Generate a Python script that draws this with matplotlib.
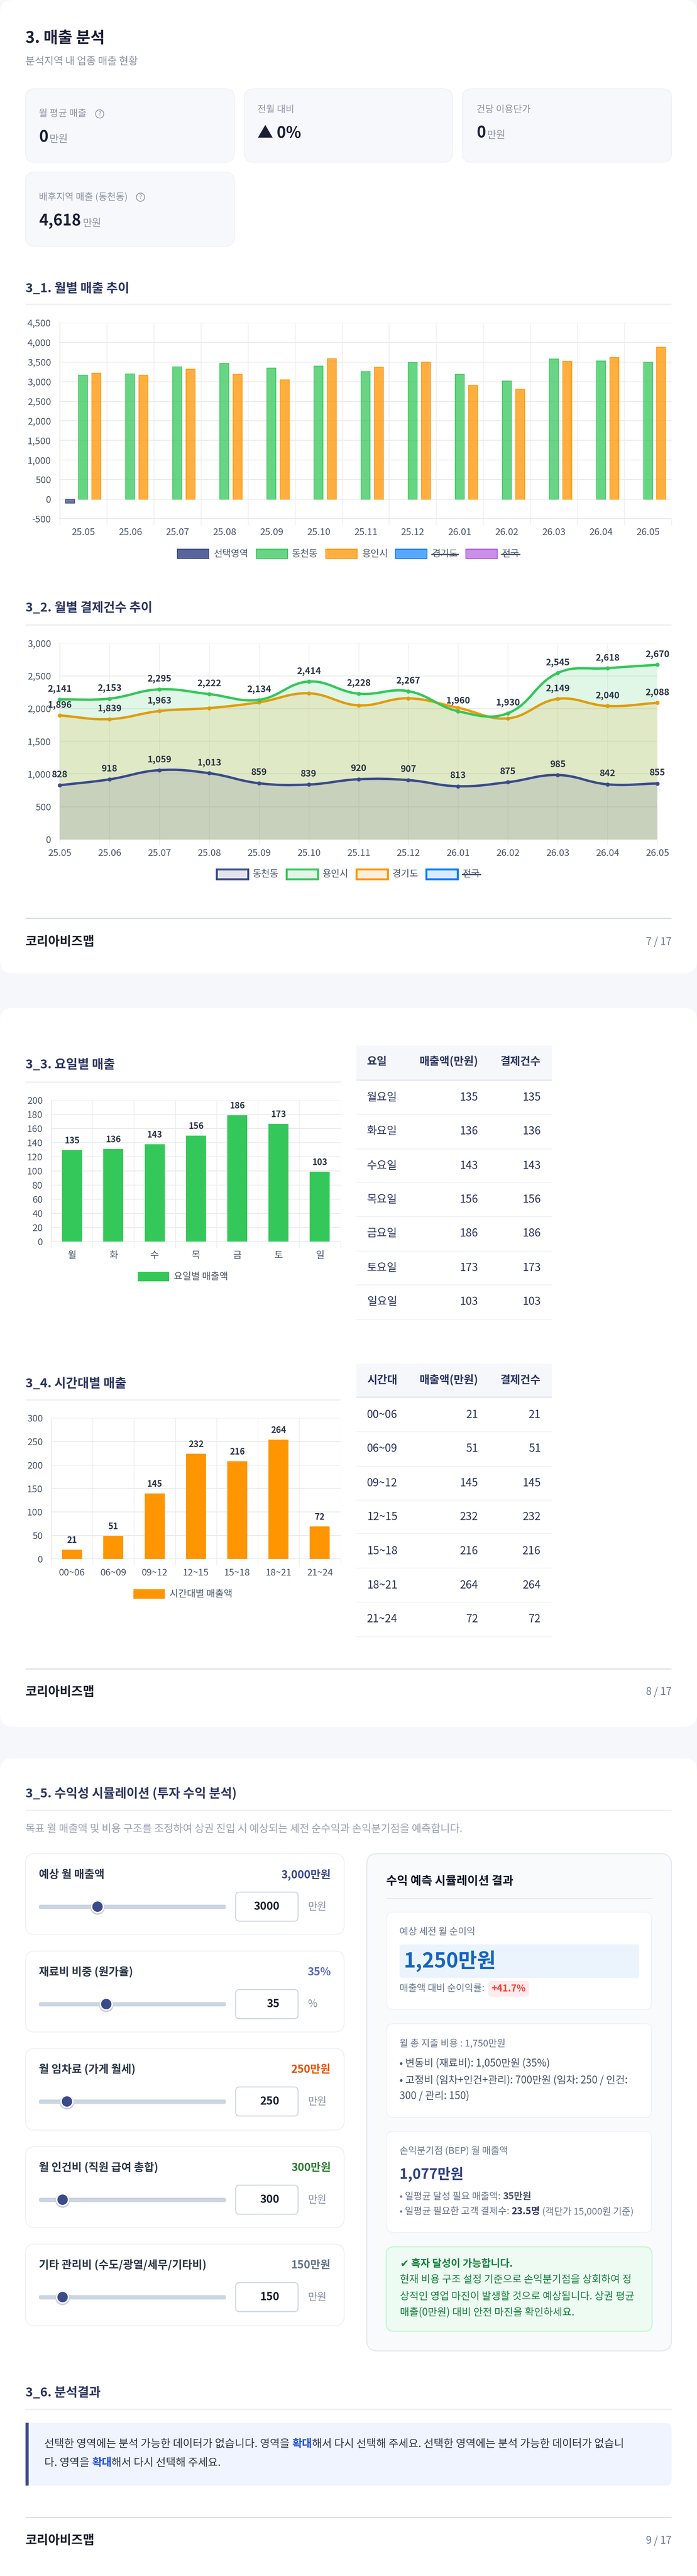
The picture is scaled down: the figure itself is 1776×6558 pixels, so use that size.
import numpy as np
import matplotlib
matplotlib.use('Agg')
import matplotlib.pyplot as plt
from matplotlib.colors import to_rgba
from matplotlib.patches import FancyBboxPatch, Circle, PathPatch, Rectangle
from matplotlib.path import Path

plt.rcParams['font.family'] = ['Noto Sans CJK KR', 'DejaVu Sans']

W, H = 1776, 6558

NAVY = '#3b4a8b'
GREEN = '#34c759'
ORANGE = '#ff9500'
BLUE = '#007aff'
PURPLE = '#af52de'
TITLE_C = '#2d3561'
GREY = '#8b93a5'
TICK_C = '#4a5568'

months = ['25.05', '25.06', '25.07', '25.08', '25.09', '25.10', '25.11',
          '25.12', '26.01', '26.02', '26.03', '26.04', '26.05']

# monthly sales bars
sales_selected = [-100, 0, 0, 0, 0, 0, 0, 0, 0, 0, 0, 0, 0]
sales_dong = [3163, 3199, 3378, 3469, 3352, 3398, 3255, 3485, 3189, 3015, 3577, 3531, 3500]
sales_si = [3219, 3168, 3321, 3184, 3051, 3587, 3372, 3495, 2908, 2811, 3520, 3622, 3878]

# monthly payment counts
count_dong = [828, 918, 1059, 1013, 859, 839, 920, 907, 813, 875, 985, 842, 855]
count_si = [2141, 2153, 2295, 2222, 2134, 2414, 2228, 2267, 1960, 1930, 2545, 2618, 2670]
count_do = [1896, 1839, 1963, 2008, 2096, 2234, 2050, 2157, 2012, 1851, 2149, 2040, 2088]
count_do_shown = [0, 1, 2, 10, 11, 12]

# weekday
days = ['월', '화', '수', '목', '금', '토', '일']
day_names = ['월요일', '화요일', '수요일', '목요일', '금요일', '토요일', '일요일']
day_labels = [135, 136, 143, 156, 186, 173, 103]
day_bars = [129.7, 131, 137.7, 150, 179, 166.5, 99]
day_seps = [2837, 2925, 3011, 3097, 3185, 3271, 3359]
day_rows = [2794, 2880, 2968, 3054, 3140, 3228, 3314]

# time of day
hours = ['00~06', '06~09', '09~12', '12~15', '15~18', '18~21', '21~24']
hour_labels = [21, 51, 145, 232, 216, 264, 72]
hour_bars = [19.7, 49, 139.6, 223.8, 208, 254, 69.3]
hour_rows = [3602, 3688, 3776, 3862, 3948.5, 4036, 4122]
hour_seps = [3645.5, 3733, 3819, 3904.5, 3992.5, 4078.6, 4166.6]

# sliders
slider_names = ['예상 월 매출액', '재료비 비중 (원가율)', '월 임차료 (가게 월세)',
                '월 인건비 (직원 급여 총합)', '기타 관리비 (수도/광열/세무/기타비)']
slider_text = ['3,000만원', '35%', '250만원', '300만원', '150만원']
slider_colors = [NAVY, '#5c6bc0', '#e65100', '#2e7d32', '#64748b']
slider_values = [3000, 35, 250, 300, 150]
slider_max = [10000, 100, 2000, 3000, 1500]
slider_units = ['만원', '%', '만원', '만원', '만원']
slider_tops = [4719, 4967, 5215, 5465, 5713]
slider_heights = [206, 206, 208, 206, 208]

fig = plt.figure(figsize=((W + 0.01) / 100, (H + 0.01) / 100), dpi=100, facecolor='#f5f7fb')
page = fig.add_axes([0, 0, 1, 1])
page.set_xlim(0, W)
page.set_ylim(H, 0)
page.axis('off')


def box(x0, y0, x1, y1, fc='white', ec='none', r=0, lw=0, z=1):
    p = FancyBboxPatch((x0, y0), x1 - x0, y1 - y0, boxstyle='round,pad=0,rounding_size=%s' % r,
                       fc=fc, ec=ec, lw=lw * 0.72, zorder=z)
    page.add_patch(p)
    return p


def txt(x, y, s, px, color='#1a1f36', weight='normal', ha='left', z=5):
    return page.text(x, y, s, fontsize=px * 0.72, color=color, fontweight=weight,
                     ha=ha, va='center', zorder=z)


def hline(x0, x1, y, color, lw):
    page.plot([x0, x1], [y, y], color=color, lw=lw * 0.72, solid_capstyle='butt', zorder=3)


def text_w(s, px, weight):
    r = fig.canvas.get_renderer()
    a = page.text(0, 0, s + '|', fontsize=px * 0.72, fontweight=weight)
    b = page.text(0, 0, '|', fontsize=px * 0.72, fontweight=weight)
    w = a.get_window_extent(r).width - b.get_window_extent(r).width
    a.remove()
    b.remove()
    return w


def rich(x, y, parts, px):
    for s, weight, color in parts:
        txt(x, y, s, px, color=color, weight=weight)
        x += text_w(s, px, weight)


def section(y, s, rule_y, x1=1711):
    txt(65, y, s, 32, color=TITLE_C, weight='bold')
    hline(65, x1, rule_y, '#f0f1f5', 4)


def footer(rule_y, y, s):
    hline(65, 1711, rule_y, '#d3dae5', 2.5)
    txt(65, y, '코리아비즈맵', 32, color='#1a202c', weight='bold')
    txt(1711, y, s, 26, color='#6b7a90', ha='right')


def add_ax(l, t, r, b):
    ax = fig.add_axes([l / W, 1 - b / H, (r - l) / W, (b - t) / H], zorder=2)
    ax.patch.set_alpha(0)
    return ax


def style_ax(ax, tick_px, tick_len, ypad):
    for s in ax.spines.values():
        s.set_visible(False)
    ax.spines['left'].set_visible(True)
    ax.spines['left'].set_color('#dddddd')
    ax.spines['left'].set_linewidth(1.0)
    ax.set_axisbelow(True)
    ax.grid(axis='y', color='#ebebeb', lw=1.5)
    ax.grid(axis='x', color='#e6e6e6', lw=0.8)
    ax.tick_params(axis='y', length=0, pad=ypad * 0.72, labelsize=tick_px * 0.72, labelcolor=TICK_C)
    ax.tick_params(axis='x', which='major', length=tick_len * 0.72, width=0.8, color='#e6e6e6')
    ax.yaxis.set_major_formatter(matplotlib.ticker.FuncFormatter(lambda v, _: format(int(v), ',')))


def cat_axis(ax, labels, tick_px, pad):
    n = len(labels)
    ax.set_xlim(0, n)
    ax.set_xticks(np.arange(n + 1))
    ax.set_xticklabels([])
    ax.set_xticks(np.arange(n) + 0.5, labels, minor=True)
    ax.tick_params(axis='x', which='minor', length=0, pad=pad * 0.72, labelsize=tick_px * 0.72,
                   labelcolor=TICK_C)


def legend_item(x0, x1, y0, y1, fc, ec, lw, label, lx, strike=False, lx1=None, px=24):
    page.add_patch(Rectangle((x0, y0), x1 - x0, y1 - y0, fc=fc, ec=ec, lw=lw * 0.72, zorder=3))
    txt(lx, (y0 + y1) / 2, label, px, color=TICK_C)
    if strike:
        page.plot([lx - 1, lx1 + 1], [(y0 + y1) / 2 + 1] * 2, color=TICK_C, lw=2.2, zorder=6)


def smooth_path(xs, ys, sx, sy, tension=0.4):
    # same control points as a chart.js bezier line
    n = len(xs)
    px, py = np.array(xs, float) * sx, np.array(ys, float) * sy
    c_in, c_out = [None] * n, [None] * n
    for i in range(n):
        a, b = max(i - 1, 0), min(i + 1, n - 1)
        d01 = np.hypot(px[i] - px[a], py[i] - py[a])
        d12 = np.hypot(px[b] - px[i], py[b] - py[i])
        tot = d01 + d12
        s01, s12 = d01 / tot, d12 / tot
        dx, dy = px[b] - px[a], py[b] - py[a]
        c_in[i] = ((px[i] - tension * s01 * dx) / sx, (py[i] - tension * s01 * dy) / sy)
        c_out[i] = ((px[i] + tension * s12 * dx) / sx, (py[i] + tension * s12 * dy) / sy)
    verts = [(xs[0], ys[0])]
    codes = [Path.MOVETO]
    for i in range(n - 1):
        verts += [c_out[i], c_in[i + 1], (xs[i + 1], ys[i + 1])]
        codes += [Path.CURVE4] * 3
    return verts, codes


# ---- page cards
box(0, 0, W, 2478, r=33)
box(0, 2566, W, 4396, r=33)
box(0, 4476, W, H + 60, r=33)

# ---- header
txt(65, 97, '3. 매출 분석', 40, weight='bold')
txt(65, 156, '분석지역 내 업종 매출 현황', 26, color=GREY)

for x0, y0, x1, y1 in [(65, 226, 597, 413), (623, 226, 1153, 413), (1178, 226, 1711, 413), (65, 438, 597, 627)]:
    box(x0, y0, x1, y1, fc='#f7f8fc', ec='#eff0f5', r=24, lw=2)

txt(99, 289, '월 평균 매출', 24, color=GREY)
txt(99, 350, '0', 40, weight='bold')
txt(126, 354, '만원', 26, color=GREY)
txt(656, 279, '전월 대비', 24, color=GREY)
txt(656, 339, '▲ 0%', 40, weight='bold')
txt(1214, 279, '건당 이용단가', 24, color=GREY)
txt(1214, 339, '0', 40, weight='bold')
txt(1241, 344, '만원', 26, color=GREY)
txt(99, 501, '배후지역 매출 (동천동)', 24, color=GREY)
txt(99, 563, '4,618', 40, weight='bold')
txt(211, 568, '만원', 26, color=GREY)
for qx, qy in [(254, 290), (358, 502)]:
    page.add_patch(Circle((qx, qy), 10.5, fc='none', ec=GREY, lw=1.4, zorder=4))
    txt(qx, qy, '?', 15, color=GREY, ha='center')

# ---- 3_1 monthly sales
section(735, '3_1. 월별 매출 추이', 775.5)
ax = add_ax(152, 822, 1711, 1321)
style_ax(ax, 24, 16, 22)
cat_axis(ax, months, 24, 23)
ax.set_ylim(-500, 4500)
ax.set_yticks(np.arange(-500, 4501, 500))
c = np.arange(13) + 0.5
for vals, off, col in [(sales_selected, -0.283, NAVY), (sales_dong, 0, GREEN), (sales_si, 0.283, ORANGE)]:
    v = np.array(vals, float)
    m = v != 0
    ax.bar(c[m] + off, v[m], 0.192, fc=to_rgba(col, 0.75), ec=col, lw=1.2, zorder=3)
ax.axhline(-500, color='#dddddd', lw=1.5, zorder=1)

legend_item(452, 532, 1398, 1422, to_rgba(NAVY, .85), NAVY, 2, '선택영역', 545)
legend_item(653, 733, 1398, 1422, to_rgba(GREEN, .75), GREEN, 2, '동천동', 744)
legend_item(830, 910, 1398, 1422, to_rgba(ORANGE, .75), ORANGE, 2, '용인시', 923)
legend_item(1008, 1088, 1398, 1422, to_rgba(BLUE, .65), BLUE, 2, '경기도', 1101, True, 1166)
legend_item(1187, 1267, 1398, 1422, to_rgba(PURPLE, .65), PURPLE, 2, '전국', 1279, True, 1323)

# ---- 3_2 monthly counts
section(1548, '3_2. 월별 결제건수 추이', 1591.5)
ax = add_ax(152, 1637.5, 1675, 2137)
style_ax(ax, 24, 14, 22)
ax.set_xlim(0, 12)
ax.set_ylim(0, 3000)
ax.set_yticks(np.arange(0, 3001, 500))
ax.set_xticks(np.arange(13), months)
ax.tick_params(axis='x', which='major', pad=10 * 0.72, labelsize=24 * 0.72, labelcolor=TICK_C)
ax.axhline(0, color='#dddddd', lw=1.5, zorder=1)
ax.axvline(12, color='#e6e6e6', lw=0.8, zorder=1)
sx, sy = 1523 / 12, 499.5 / 3000
xs = list(range(13))
for vals, col, z in [(count_do, ORANGE, 3), (count_si, GREEN, 4), (count_dong, NAVY, 5)]:
    verts, codes = smooth_path(xs, vals, sx, sy)
    fill = Path(verts + [(12, 0), (0, 0), (0, vals[0])], codes + [Path.LINETO] * 3)
    ax.add_patch(PathPatch(fill, fc=to_rgba(col, 0.15), ec='none', zorder=z))
    ax.add_patch(PathPatch(Path(verts, codes), fc='none', ec=col, lw=6 * 0.72, zorder=z + 0.1, clip_on=False))
    ax.plot(xs, vals, 'o', ms=9 * 0.72, mfc=col, mec=col, ls='none', zorder=z + 0.2, clip_on=False)


def point_labels(vals, idx):
    for i in idx:
        ax.annotate(format(vals[i], ','), (i, vals[i]), xytext=(0, 27 * 0.72), textcoords='offset points',
                    ha='center', va='center', fontsize=23 * 0.72, color='#2d3748', fontweight='bold',
                    annotation_clip=False, zorder=10)


point_labels(count_si, range(13))
point_labels(count_do, count_do_shown)
point_labels(count_dong, range(13))

legend_item(552, 632, 2213, 2238, to_rgba(NAVY, .15), NAVY, 5, '동천동', 644)
legend_item(730, 810, 2213, 2238, to_rgba(GREEN, .15), GREEN, 5, '용인시', 822)
legend_item(908, 988, 2213, 2238, to_rgba(ORANGE, .15), ORANGE, 5, '경기도', 1000)
legend_item(1086, 1166, 2213, 2238, to_rgba(BLUE, .15), BLUE, 5, '전국', 1179, True, 1223)
footer(2338.5, 2398, '7 / 17')


def bar_chart(top, bot, ymax, step, labels, bars, names, col):
    ax = add_ax(131, top, 867.5, bot)
    style_ax(ax, 24, 16, 22)
    cat_axis(ax, labels, 24, 24)
    ax.set_ylim(0, ymax)
    ax.set_yticks(np.arange(0, ymax + 1, step))
    ax.axhline(0, color='#dddddd', lw=1.5, zorder=1)
    pos = np.arange(7) + 0.5
    ax.bar(pos, bars, 0.485, color=col, zorder=3)
    ax.axvline(7, color='#e6e6e6', lw=0.8, zorder=1)
    for p, b, n in zip(pos, bars, names):
        ax.annotate(str(n), (p, b), xytext=(0, 23.5 * 0.72), textcoords='offset points', ha='center',
                    va='center', fontsize=22 * 0.72, color='#2d3748', fontweight='bold',
                    annotation_clip=False)


def table(h0, h1, hy, head, rows_y, seps, names, vals):
    page.add_patch(Rectangle((908, h0), 497.5, h1 - h0, fc='#f5f7fb', ec='none', zorder=2))
    hline(908, 1405.5, h1 + 1.5, '#e2e8f0', 3.5)
    txt(935, hy, head, 28, color=TITLE_C, weight='bold')
    txt(1218.6, hy, '매출액(만원)', 28, color=TITLE_C, weight='bold', ha='right')
    txt(1378, hy, '결제건수', 28, color=TITLE_C, weight='bold', ha='right')
    for y, s, n, v in zip(rows_y, seps, names, vals):
        txt(935, y, n, 28, color=TITLE_C)
        txt(1218.6, y, str(v), 28, color=TITLE_C, ha='right')
        txt(1378, y, str(v), 28, color=TITLE_C, ha='right')
        hline(908, 1405.5, s, '#eff1f5', 2)


# ---- 3_3 weekday
section(2711, '3_3. 요일별 매출', 2755.5, 867.5)
bar_chart(2801, 3161, 200, 20, days, day_bars, day_labels, GREEN)
page.add_patch(Rectangle((351, 3238), 80, 24, fc=GREEN, ec='none', zorder=3))
txt(443, 3250, '요일별 매출액', 24, color=TICK_C)
table(2662, 2749, 2703, '요일', day_rows, day_seps, day_names, day_labels)

# ---- 3_4 time of day
section(3522.5, '3_4. 시간대별 매출', 3564, 867.5)
bar_chart(3610, 3969, 300, 50, hours, hour_bars, hour_labels, ORANGE)
page.add_patch(Rectangle((340, 4046), 80, 24, fc=ORANGE, ec='none', zorder=3))
txt(432, 4058, '시간대별 매출액', 24, color=TICK_C)
table(3472, 3556, 3513.5, '시간대', hour_rows, hour_seps, hours, hour_labels)
footer(4249, 4307.5, '8 / 17')

# ---- 3_5 simulation
section(4566, '3_5. 수익성 시뮬레이션 (투자 수익 분석)', 4609)
txt(65, 4656, '목표 월 매출액 및 비용 구조를 조정하여 상권 진입 시 예상되는 세전 순수익과 손익분기점을 예측합니다.',
    26.5, color='#9aa3b2')

for i in range(5):
    t = slider_tops[i]
    box(65, t, 877, t + slider_heights[i], ec='#eff1f5', r=24, lw=2.5)
    txt(99, t + 54, slider_names[i], 28, color='#2d3748', weight='bold')
    txt(843, t + 54, slider_text[i], 28, color=slider_colors[i], weight='bold', ha='right')
    box(99, t + 130, 576, t + 141, fc='#cbd5e1', r=5, z=2)
    kx = 115 + slider_values[i] / slider_max[i] * 445
    page.add_patch(Circle((kx, t + 137), 18.5, fc='#c9ced8', ec='none', zorder=3))
    page.add_patch(Circle((kx, t + 135), 15, fc=NAVY, ec='white', lw=3.5 * 0.72, zorder=4))
    box(600.5, t + 98, 759.5, t + 172, ec='#cbd5e1', r=10, lw=2.5, z=2)
    txt(712, t + 135, str(slider_values[i]), 28, color='#1a202c', weight='bold', ha='right')
    txt(785, t + 135, slider_units[i], 26, color=GREY)

box(934.5, 4719, 1711, 5985, fc='#f8fafc', ec='#e2e8f0', r=28, lw=2.5)
txt(984, 4789, '수익 예측 시뮬레이션 결과', 30, color='#111827', weight='bold')
hline(984, 1662, 4833, '#e2e8f0', 2)

for y0, y1 in [(4868, 5116), (5152, 5390.5), (5426, 5683)]:
    box(985.5, y0, 1660, y1, ec='#eef1f5', r=16, lw=2, z=2)

txt(1018, 4918, '예상 세전 월 순이익', 24, color='#64748b')
box(1018, 4950, 1628, 5035.5, fc='#ebf3fc', r=6, z=3)
txt(1028.5, 4993, '1,250만원', 52, color='#1565c0', weight='bold')
txt(1018, 5062, '매출액 대비 순이익률:', 24, color='#64748b')
box(1244, 5043, 1348, 5083, fc='#ffebee', r=8, z=3)
txt(1296, 5063, '+41.7%', 24, color='#ff3b30', weight='bold', ha='center')

txt(1018, 5202, '월 총 지출 비용 : 1,750만원', 24, color='#64748b')
txt(1018, 5253.5, '• 변동비 (재료비): 1,050만원 (35%)', 26, color='#4a5568')
txt(1018, 5296, '• 고정비 (임차+인건+관리): 700만원 (임차: 250 / 인건:', 26, color='#4a5568')
txt(1018, 5336, '300 / 관리: 150)', 26, color='#4a5568')

txt(1018, 5476, '손익분기점 (BEP) 월 매출액', 24, color='#64748b')
txt(1018, 5535.5, '1,077만원', 36, color='#2f3e80', weight='bold')
rich(1018, 5592, [('• 일평균 달성 필요 매출액: ', 'normal', '#64748b'), ('35만원', 'bold', '#4a5568')], 24)
rich(1018, 5630, [('• 일평균 필요한 고객 결제수: ', 'normal', '#64748b'), ('23.5명', 'bold', '#2d3561'),
                  (' (객단가 15,000원 기준)', 'normal', '#64748b')], 24)

box(984, 5720, 1661.5, 5935, fc='#eefbf2', ec='#bbf7d0', r=20, lw=2.5, z=2)
txt(1020, 5763.5, '✔ 흑자 달성이 가능합니다.', 26, color='#15803d', weight='bold')
txt(1019, 5803, '현재 비용 구조 설정 기준으로 손익분기점을 상회하여 정', 26, color='#15803d')
txt(1019, 5846, '상적인 영업 마진이 발생할 것으로 예상됩니다. 상권 평균', 26, color='#15803d')
txt(1019, 5887, '매출(0만원) 대비 안전 마진을 확인하세요.', 26, color='#15803d')

# ---- 3_6 result
section(6092, '3_6. 분석결과', 6134)
box(65, 6168, 1711, 6328, fc='#f0f4fe', r=16, z=2)
page.add_patch(Rectangle((65, 6168), 8, 160, fc=NAVY, ec='none', zorder=3))
body = '#2d3748'
hl = '#1d4ed8'
rich(113, 6222, [('선택한 영역에는 분석 가능한 데이터가 없습니다. 영역을 ', 'normal', body), ('확대', 'bold', hl),
                 ('해서 다시 선택해 주세요. 선택한 영역에는 분석 가능한 데이터가 없습니', 'normal', body)], 27.5)
rich(113, 6270, [('다. 영역을 ', 'normal', body), ('확대', 'bold', hl), ('해서 다시 선택해 주세요.', 'normal', body)], 27.5)
footer(6409, 6468, '9 / 17')

fig.savefig('out.png', dpi=100, facecolor=fig.get_facecolor())
